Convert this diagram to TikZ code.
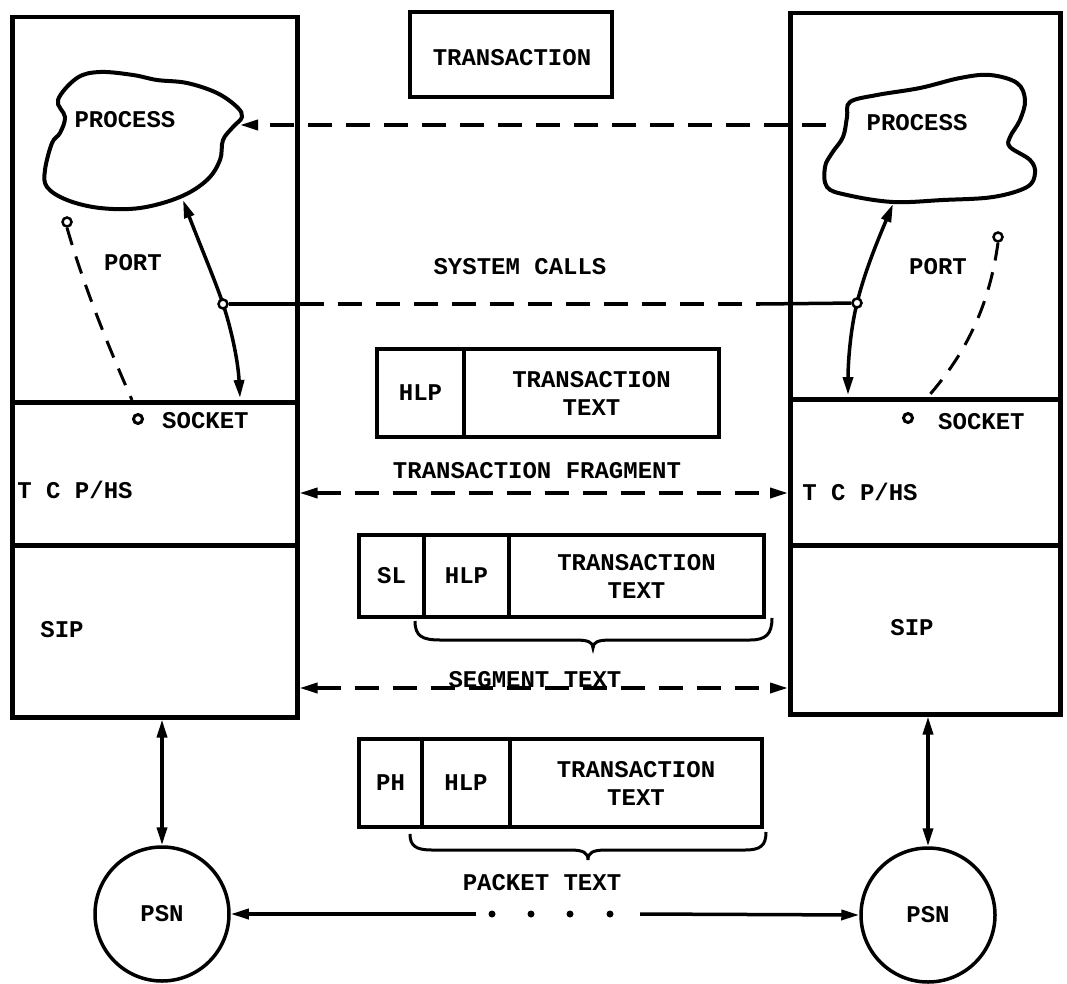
\documentclass[tikz,border=0pt]{standalone}
\usepackage{fontspec}
\setmonofont{Liberation Mono}
\usetikzlibrary{arrows.meta,calc}
\begin{document}
\begin{tikzpicture}[x=1pt,y=-1pt,
  lbl/.style={font=\ttfamily\bfseries\fontsize{24}{28}\selectfont, inner sep=0pt, align=center},
  layer/.style={draw, line width=4.5pt, inner sep=0pt, anchor=north west},
  cell/.style={draw, line width=4pt, inner sep=0pt, anchor=north west, lbl},
  conn/.style={line width=3.5pt},
  dashline/.style={conn, dash pattern=on 24pt off 14pt},
  portline/.style={line width=3pt, dash pattern=on 18pt off 12pt},
  tipR/.style={-{Triangle[length=18pt,width=10pt]}},
  tipLR/.style={{Triangle[length=18pt,width=10pt]}-{Triangle[length=18pt,width=10pt]}},
  ring/.style={circle, draw, line width=2.5pt, fill=white, inner sep=0pt, minimum size=9pt},
  psn/.style={circle, draw, line width=3.5pt, inner sep=0pt, minimum size=134pt, lbl},
  cloud/.style={line width=4pt}
]
\useasboundingbox (0,0) rectangle (1067,984);

% ---- host boxes
\node[layer, minimum width=285pt, minimum height=385pt] (lapp) at (10,15) {};
\node[layer, minimum width=285pt, minimum height=143pt] (ltcp) at (10,400) {};
\node[layer, minimum width=285pt, minimum height=172pt] (lsip) at (10,543) {};
\node[layer, minimum width=270pt, minimum height=386pt] (rapp) at (788,11) {};
\node[layer, minimum width=270pt, minimum height=146pt] (rtcp) at (788,397) {};
\node[layer, minimum width=270pt, minimum height=169pt] (rsip) at (788,543) {};

% ---- transaction box
\node[cell, minimum width=202pt, minimum height=85pt] (trans) at (408,10) {};
\node[lbl] (transl) at (512,58) {TRANSACTION};

% ---- clouds
\draw[cloud] plot[smooth cycle, tension=0.6] coordinates {
 (58,100) (77,78) (100,72) (133,75) (157,80) (187,83) (217,93) (237,107) (242,117)
 (233,127) (223,140) (220,160) (207,180) (180,197) (140,208) (100,208) (67,200)
 (47,187) (45,170) (52,143) (60,133) (65,117)};
\node[lbl] (lproc) at (125,120) {PROCESS};
\draw[cloud] plot[smooth cycle, tension=0.6] coordinates {
 (850,102) (877,95) (920,88) (960,78) (990,75) (1017,83) (1025,100) (1020,120)
 (1010,137) (1010,147) (1030,160) (1035,173) (1027,187) (993,197) (943,200)
 (893,202) (847,195) (827,187) (825,167) (832,153) (843,137) (847,117)};
\node[lbl] (rproc) at (917,123) {PROCESS};

\coordinate (lcE) at (240,125);
\coordinate (rcW) at (826,125);
\draw[dashline, tipR] (rcW) -- (lcE);

% ---- labels
\node[lbl] (lport) at (133,263) {PORT};
\node[lbl] (rport) at (938,267) {PORT};
\node[lbl] (syscalls) at (520,267) {SYSTEM CALLS};
\node[lbl, anchor=west] (lsock) at (162,421) {SOCKET};
\node[lbl, anchor=west] (rsock) at (938,422) {SOCKET};
\node[lbl] (ltcpl) at (75,490) {T C P/HS};
\node[lbl] (rtcpl) at (860,492) {T C P/HS};
\node[lbl] (lsipl) at (62,630) {SIP};
\node[lbl] (rsipl) at (912,628) {SIP};

% ---- curved system-call arrows
\coordinate (lcB) at (183,200);
\coordinate (lsB) at (240,398);
\coordinate (rcB) at (893,204);
\coordinate (rsB) at (848,395);
\draw[conn, tipLR] (lcB) .. controls (198,240) and (215,280) .. (223,304)
   .. controls (231,328) and (238,360) .. (lsB);
\draw[conn, tipLR] (rsB) .. controls (848,370) and (849,336) .. (857,303)
   .. controls (865,270) and (880,235) .. (rcB);
\node[ring] (ljunc) at (223,304) {};
\node[ring] (rjunc) at (857,303) {};
\coordinate (sL) at (300,304);
\coordinate (sR) at (760,304);
\draw[conn] (ljunc) -- (sL);
\draw[dashline] (sL) -- (sR);
\draw[conn] (sR) -- (rjunc);

% ---- port / socket
\node[ring] (lpin) at (67,222) {};
\node[ring] (rpin) at (998,237) {};
\coordinate (lpS) at (132,400);
\coordinate (rpS) at (925,400);
\draw[portline] (lpin.south) .. controls (85,290) and (110,350) .. (lpS);
\draw[portline] (rpin.south) .. controls (990,300) and (970,350) .. (rpS);
\node[ring, line width=3pt] (lsoc) at (138,419) {};
\node[ring, line width=3pt] (rsoc) at (908,418) {};

% ---- HLP packet
\node[cell, minimum width=87pt, minimum height=88pt] (hlpA) at (375,347) {HLP};
\node[cell, minimum width=255pt, minimum height=88pt] (ttA) at (462,347) {TRANSACTION\\TEXT};

\coordinate (tf) at (0,493);
\node[lbl] (tfl) at (537,471) {TRANSACTION FRAGMENT};
\draw[dashline, tipLR] (ltcp.east |- tf) -- (rtcp.west |- tf);

% ---- SL packet
\node[cell, minimum width=65pt, minimum height=82pt] (slB) at (357,533) {SL};
\node[cell, minimum width=85pt, minimum height=82pt] (hlpB) at (422,533) {HLP};
\node[cell, minimum width=255pt, minimum height=82pt] (ttB) at (507,533) {TRANSACTION\\TEXT};
\draw[line width=3pt] (415,621) .. controls (415,636) and (422,640) .. (440,640)
  -- (575,640) .. controls (588,640) and (593,642) .. (593,648)
  .. controls (593,642) and (598,640) .. (611,640)
  -- (750,640) .. controls (766,640) and (772,634) .. (772,618);

\coordinate (sg) at (0,688);
\node[lbl] (sgl) at (535,680) {SEGMENT TEXT};
\draw[dashline, tipLR] (lsip.east |- sg) -- (rsip.west |- sg);

% ---- PH packet
\node[cell, minimum width=63pt, minimum height=88pt] (phC) at (357,737) {PH};
\node[cell, minimum width=88pt, minimum height=88pt] (hlpC) at (420,737) {HLP};
\node[cell, minimum width=252pt, minimum height=88pt] (ttC) at (508,737) {TRANSACTION\\TEXT};
\draw[line width=3pt] (410,834) .. controls (410,846) and (416,850) .. (432,850)
  -- (570,850) .. controls (584,850) and (588,853) .. (588,860)
  .. controls (588,853) and (592,850) .. (606,850)
  -- (745,850) .. controls (760,850) and (766,846) .. (766,832);
\node[lbl] (pktl) at (542,883) {PACKET TEXT};

% ---- PSN
\node[psn] (lpsn) at (162,914) {PSN};
\node[psn] (rpsn) at (928,915) {PSN};
\draw[conn, tipLR] (lpsn.north |- lsip.south) -- (lpsn.north);
\draw[conn, tipLR] (rpsn.north |- rsip.south) -- (rpsn.north);
\coordinate (dl) at (476,914);
\coordinate (dr) at (640,914);
\draw[conn, tipR] (dl) -- (lpsn.east);
\draw[conn, tipR] (dr) -- (rpsn.west);
\foreach \x [count=\i] in {492,531,570,610} \fill (\x,914) circle (3.5pt);
\end{tikzpicture}
\end{document}
